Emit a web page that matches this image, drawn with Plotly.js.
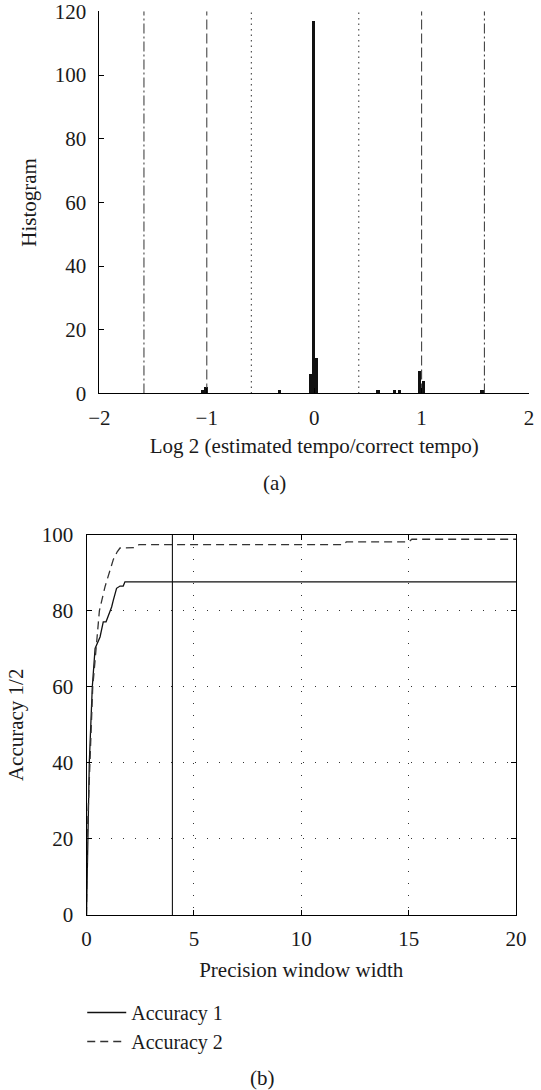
<!DOCTYPE html>
<html>
<head>
<meta charset="utf-8">
<script src="https://cdn.plot.ly/plotly-3.0.1.min.js"></script>
<style>html,body{margin:0;padding:0;background:#fff;}#chart{width:541px;height:1090px;}</style>
</head>
<body>
<div id="chart"></div>
<script>
// ---- Panel (a): histogram of log2(estimated tempo / correct tempo) ----
const histBins   = [-1.037, -1.007, -0.325, -0.037, -0.007, 0.022, 0.594, 0.750, 0.797, 0.983, 1.015, 1.562];
const histCounts = [1, 2, 1, 6, 117, 11, 1, 1, 1, 7, 4, 1];
const histBinWidth = 0.03;

// reference ratio lines: log2(1/3), log2(1/2), log2(2/3), log2(4/3), log2(2), log2(3)
const refLineX     = [-1.585, -1.0, -0.585, 0.415, 1.0, 1.585];
const refLineKind  = ["dashdot", "dash", "dot", "dot", "dash", "dashdot"];
const histYRange   = [0, 120];
const histXTicks   = [-2, -1, 0, 1, 2];

// ---- Panel (b): accuracy vs precision window width ----
const acc1X = [0, 0.05, 0.13, 0.27, 0.40, 0.63, 0.78, 0.91, 1.17, 1.25, 1.40, 1.56, 1.71, 1.79, 20];
const acc1Y = [0, 20, 40, 60, 70.1, 73.1, 77.1, 77.1, 81.0, 82.8, 85.9, 86.5, 86.5, 87.6, 87.6];
const acc2X = [0, 0.03, 0.16, 0.29, 0.40, 0.60, 0.86, 1.25, 1.43, 1.56, 2.20, 2.45, 11.95, 12.1, 15.0, 15.15, 20];
const acc2Y = [0, 20, 40, 60, 67, 80, 86.3, 93.5, 95.5, 96.5, 96.6, 97.4, 97.4, 98.1, 98.1, 98.8, 98.8];
const windowMarkX = 4;
const accYRange = [0, 100];
const accXRange = [0, 20];

const FONT = "'Liberation Serif', 'Times New Roman', serif";
const INK = "#1a1a1a";

const traces = [];

// histogram bars
traces.push({
  type: "bar", x: histBins, y: histCounts, width: histBinWidth,
  marker: {color: "#111", line: {width: 0}},
  xaxis: "x", yaxis: "y", showlegend: false, hoverinfo: "x+y"
});

// reference lines
const dashMap = {dashdot: "10px,3px,2px,3px", dash: "10px,4px", dot: "1.5px,4px"};
refLineX.forEach((v, i) => {
  traces.push({
    type: "scatter", mode: "lines", x: [v, v], y: histYRange,
    line: {color: "#444", width: 1.1, dash: dashMap[refLineKind[i]]},
    xaxis: "x", yaxis: "y", showlegend: false, hoverinfo: "skip"
  });
});

// accuracy curves
traces.push({
  type: "scatter", mode: "lines", name: "Accuracy 1", x: acc1X, y: acc1Y,
  line: {color: "#111", width: 1.3},
  xaxis: "x2", yaxis: "y2"
});
traces.push({
  type: "scatter", mode: "lines", name: "Accuracy 2", x: acc2X, y: acc2Y,
  line: {color: "#333", width: 1.3, dash: "8px,5px"},
  xaxis: "x2", yaxis: "y2"
});
traces.push({
  type: "scatter", mode: "lines", x: [windowMarkX, windowMarkX], y: accYRange,
  line: {color: "#111", width: 1.1},
  xaxis: "x2", yaxis: "y2", showlegend: false, hoverinfo: "skip"
});

const tickFont = {family: FONT, size: 21, color: INK};
const titleFont = {family: FONT, size: 21, color: INK};

const layout = {
  width: 541, height: 1090,
  margin: {l: 0, r: 0, t: 0, b: 0},
  paper_bgcolor: "#fff", plot_bgcolor: "#fff",
  font: {family: FONT, size: 20, color: INK},
  showlegend: true,
  bargap: 0,
  xaxis: {
    domain: [0.1837, 0.9778], range: [-2, 2], anchor: "y",
    tickmode: "array", tickvals: histXTicks,
    ticks: "inside", ticklen: 5, tickcolor: "#000", tickwidth: 1,
    showline: true, linecolor: "#000", linewidth: 1, mirror: false,
    showgrid: false, zeroline: false, automargin: false,
    tickfont: tickFont, ticklabelstandoff: 5, ticklabeloverflow: "allow",
    title: {text: "Log 2 (estimated tempo/correct tempo)", font: titleFont, standoff: 9}
  },
  yaxis: {
    domain: [0.6390, 0.98963], range: histYRange, anchor: "x",
    dtick: 20, tick0: 0,
    ticks: "inside", ticklen: 5, tickcolor: "#000", tickwidth: 1,
    showline: true, linecolor: "#000", linewidth: 1, mirror: false,
    showgrid: false, zeroline: false, automargin: false,
    tickfont: tickFont, ticklabelstandoff: 8, ticklabeloverflow: "allow",
    title: {text: "Histogram", font: titleFont, standoff: 12}
  },
  xaxis2: {
    domain: [0.1599, 0.9538], range: accXRange, anchor: "y2",
    dtick: 5, tick0: 0,
    ticks: "inside", ticklen: 5, tickcolor: "#000", tickwidth: 1,
    showline: true, linecolor: "#000", linewidth: 1, mirror: "ticks",
    showgrid: true, gridcolor: "#333", gridwidth: 1, griddash: "1.5px,10.5px",
    zeroline: false, automargin: false,
    tickfont: tickFont, ticklabelstandoff: 5, ticklabeloverflow: "allow",
    title: {text: "Precision window width", font: titleFont, standoff: 12}
  },
  yaxis2: {
    domain: [0.16055, 0.50945], range: accYRange, anchor: "x2",
    dtick: 20, tick0: 0,
    ticks: "inside", ticklen: 5, tickcolor: "#000", tickwidth: 1,
    showline: true, linecolor: "#000", linewidth: 1, mirror: "ticks",
    showgrid: true, gridcolor: "#333", gridwidth: 1, griddash: "1.5px,10.5px",
    zeroline: false, automargin: false,
    tickfont: tickFont, ticklabelstandoff: 8, ticklabeloverflow: "allow",
    title: {text: "Accuracy 1/2", font: titleFont, standoff: 12}
  },
  legend: {
    x: 0.152, xanchor: "left", y: 0.089, yanchor: "top",
    bgcolor: "rgba(0,0,0,0)", borderwidth: 0,
    font: {family: FONT, size: 20, color: INK},
    itemwidth: 39,
    tracegroupgap: 0
  },
  annotations: [
    {text: "(a)", xref: "paper", yref: "paper", x: 0.508, y: 0.5569, xanchor: "center", yanchor: "middle",
     showarrow: false, font: {family: FONT, size: 21, color: INK}},
    {text: "(b)", xref: "paper", yref: "paper", x: 0.486, y: 0.011, xanchor: "center", yanchor: "middle",
     showarrow: false, font: {family: FONT, size: 21, color: INK}}
  ]
};

Plotly.newPlot("chart", traces, layout, {displayModeBar: false, staticPlot: true});
</script>
</body>
</html>
